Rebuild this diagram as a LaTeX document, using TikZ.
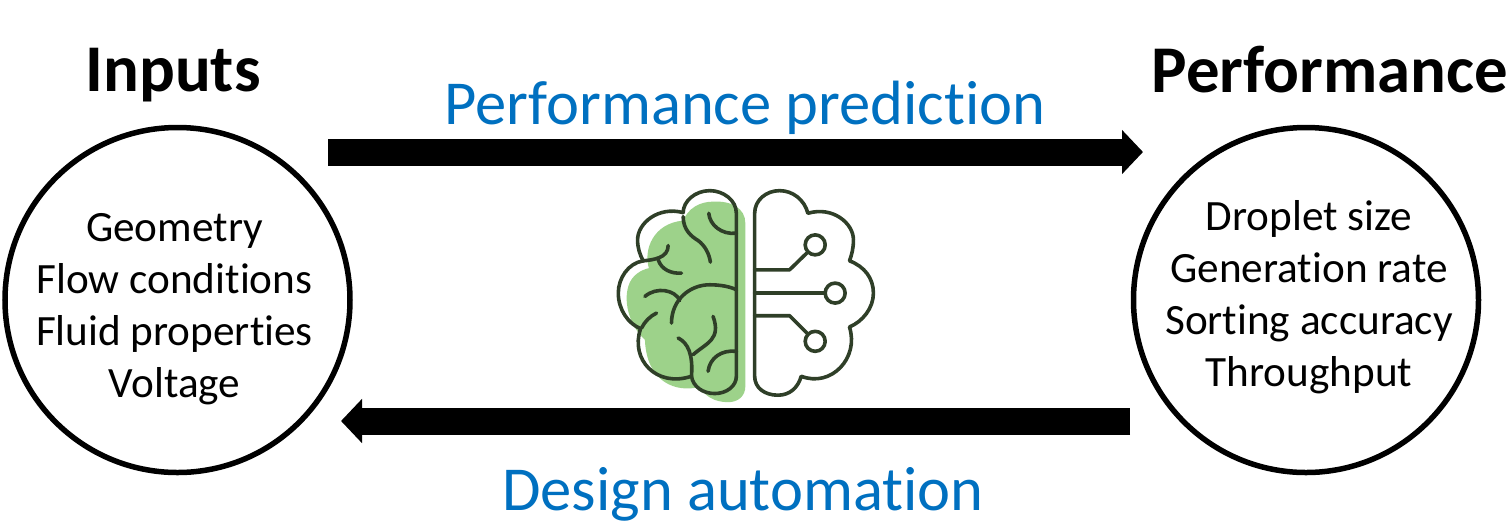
\documentclass[tikz,border=0pt]{standalone}
\usepackage{fontspec}
\setmainfont{Carlito}[RawFeature=-liga]
\usetikzlibrary{arrows.meta}
\definecolor{titleblue}{HTML}{0070C0}
\definecolor{brainline}{HTML}{2F3F28}
\definecolor{braingreen}{HTML}{9DD28A}
\tikzset{
  circlenode/.style={draw, circle, line width=.055cm, minimum size=3.45cm, inner sep=0pt},
  listnode/.style={align=center, font=\fontsize{12.3}{14.8}\selectfont},
  headnode/.style={font=\fontsize{19}{22}\selectfont\bfseries},
  actionnode/.style={text=titleblue, font=\fontsize{17.8}{20}\selectfont},
  bigarrow/.style={line width=.27cm, -{Triangle[length=.21cm,width=.43cm]}},
  brainstroke/.style={draw=brainline, line width=.036cm, line cap=round, line join=round}
}
\begin{document}
\begin{tikzpicture}
    \useasboundingbox (0, 0) rectangle (15.12, 5.24);
    \node[circlenode] (inputs) at (1.775, 2.24) {};
    \node[circlenode] (performance) at (13.06, 2.24) {};
    \node[listnode] (inputslist) at (1.745, 2.15) {Geometry\\Flow conditions\\Fluid properties\\Voltage};
    \node[listnode] (performancelist) at (13.09, 2.27) {Droplet size\\Generation rate\\Sorting accuracy\\Throughput};
    \node[headnode] (inputstitle) at (1.73, 4.49) {Inputs};
    \node[headnode] (performancetitle) at (13.30, 4.54) {Performance};
    \node[actionnode] (predict) at (7.45, 4.16) {Performance prediction};
    \node[actionnode] (design) at (7.43, 0.30) {Design automation};
    \coordinate (topleft) at (3.28, 3.72);
    \coordinate (topright) at (11.43, 3.72);
    \coordinate (botright) at (11.30, 1.03);
    \coordinate (botleft) at (3.41, 1.03);
    \draw[bigarrow] (topleft) -- (topright);
    \draw[bigarrow] (botright) -- (botleft);
    % brain
    \begin{scope}[shift={(6, 3.44)}, x=.003333cm, y=-.003333cm]
      \fill[braingreen] (340, 65) .. controls (395, 62) and (437, 85) .. (437, 130) -- (437, 620)
        .. controls (437, 650) and (415, 668) .. (385, 668)
        .. controls (345, 668) and (315, 650) .. (300, 622)
        .. controls (230, 640) and (140, 610) .. (135, 480)
        .. controls (90, 440) and (70, 370) .. (85, 320)
        .. controls (95, 285) and (125, 270) .. (147, 265)
        .. controls (130, 210) and (160, 130) .. (250, 122)
        .. controls (265, 85) and (300, 65) .. (340, 65) -- cycle;
      % left half
      \draw[brainstroke] (410, 590) -- (410, 100)
        .. controls (410, 60) and (370, 32) .. (330, 32)
        .. controls (285, 32) and (250, 65) .. (250, 98)
        .. controls (175, 78) and (113, 130) .. (113, 180)
        .. controls (113, 205) and (120, 225) .. (130, 243)
        .. controls (85, 250) and (55, 295) .. (55, 340)
        .. controls (55, 390) and (85, 432) .. (122, 447)
        .. controls (90, 540) and (170, 625) .. (275, 590)
        .. controls (280, 622) and (310, 642) .. (345, 642)
        .. controls (380, 642) and (410, 620) .. (410, 590);
      \draw[brainstroke] (250, 110) .. controls (250, 150) and (275, 170) .. (295, 182)
        .. controls (315, 197) and (328, 220) .. (332, 247);
      \draw[brainstroke] (327, 100) .. controls (330, 135) and (365, 165) .. (410, 160);
      \draw[brainstroke] (130, 243) .. controls (160, 240) and (205, 235) .. (205, 197);
      \draw[brainstroke] (175, 240) .. controls (185, 270) and (215, 282) .. (245, 280);
      \draw[brainstroke] (135, 350) .. controls (170, 320) and (225, 330) .. (240, 362);
      \draw[brainstroke] (215, 430) .. controls (215, 360) and (270, 315) .. (330, 315)
        .. controls (360, 315) and (390, 320) .. (410, 330);
      \draw[brainstroke] (125, 445) .. controls (135, 425) and (150, 410) .. (170, 400);
      \draw[brainstroke] (235, 475) .. controls (265, 490) and (280, 525) .. (275, 590);
      \draw[brainstroke] (280, 525) .. controls (320, 490) and (365, 480) .. (340, 410);
      \draw[brainstroke] (325, 575) .. controls (330, 535) and (365, 510) .. (410, 515);
      % right half
      \draw[brainstroke] (465, 590) -- (465, 100)
        .. controls (465, 60) and (500, 32) .. (540, 32)
        .. controls (580, 32) and (615, 60) .. (625, 100)
        .. controls (700, 78) and (762, 130) .. (762, 180)
        .. controls (762, 205) and (757, 225) .. (750, 243)
        .. controls (795, 260) and (822, 295) .. (822, 340)
        .. controls (822, 385) and (790, 425) .. (750, 442)
        .. controls (780, 535) and (695, 625) .. (605, 590)
        .. controls (595, 625) and (570, 647) .. (535, 647)
        .. controls (495, 647) and (465, 625) .. (465, 590);
      \node[circle, brainstroke, minimum size=.2cm, inner sep=0pt] (dottop) at (647, 195) {};
      \node[circle, brainstroke, minimum size=.2cm, inner sep=0pt] (dotmid) at (707, 340) {};
      \node[circle, brainstroke, minimum size=.2cm, inner sep=0pt] (dotbot) at (647, 485) {};
      \coordinate (wiretop) at (465, 270);
      \coordinate (wiremid) at (465, 340);
      \coordinate (wirebot) at (465, 408);
      \draw[brainstroke] (wiretop) -- (570, 270) -- (dottop);
      \draw[brainstroke] (wiremid) -- (dotmid);
      \draw[brainstroke] (wirebot) -- (570, 408) -- (dotbot);
    \end{scope}
\end{tikzpicture}
\end{document}
